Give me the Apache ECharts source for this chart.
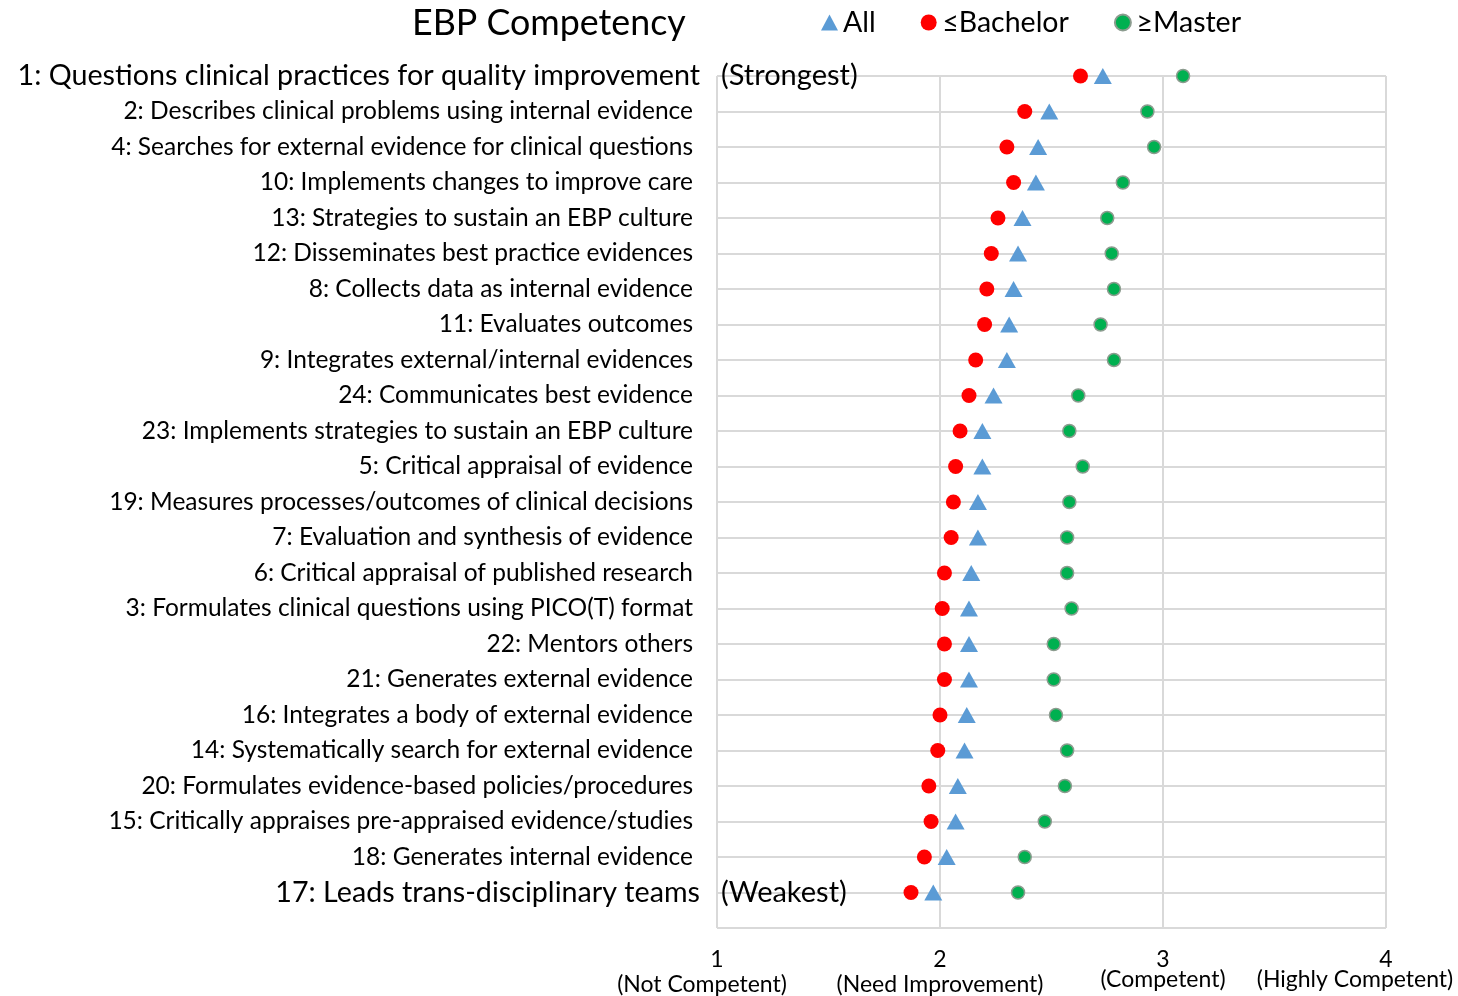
<!DOCTYPE html>
<html><head><meta charset="utf-8">
<script src="https://cdn.jsdelivr.net/npm/echarts@6/dist/echarts.min.js"></script>
<style>html,body{margin:0;padding:0;background:#fff}#c{width:1458px;height:996px}</style>
</head><body><div id="c"></div>
<script>
const categories = [
  "1: Questions clinical practices for quality improvement",
  "2: Describes clinical problems using internal evidence",
  "4: Searches for external evidence for clinical questions",
  "10: Implements changes to improve care",
  "13: Strategies to sustain an EBP culture",
  "12: Disseminates best practice evidences",
  "8: Collects data as internal evidence",
  "11: Evaluates outcomes",
  "9: Integrates external/internal evidences",
  "24: Communicates best evidence",
  "23: Implements strategies to sustain an EBP culture",
  "5: Critical appraisal of evidence",
  "19: Measures processes/outcomes of clinical decisions",
  "7: Evaluation and synthesis of evidence",
  "6: Critical appraisal of published research",
  "3: Formulates clinical questions using PICO(T) format",
  "22: Mentors others",
  "21: Generates external evidence",
  "16: Integrates a body of external evidence",
  "14: Systematically search for external evidence",
  "20: Formulates evidence-based policies/procedures",
  "15: Critically appraises pre-appraised evidence/studies",
  "18: Generates internal evidence",
  "17: Leads trans-disciplinary teams"
];
const allValues      = [2.73,2.49,2.44,2.43,2.37,2.35,2.33,2.31,2.30,2.24,2.19,2.19,2.17,2.17,2.14,2.13,2.13,2.13,2.12,2.11,2.08,2.07,2.03,1.97];
const bachelorValues = [2.63,2.38,2.30,2.33,2.26,2.23,2.21,2.20,2.16,2.13,2.09,2.07,2.06,2.05,2.02,2.01,2.02,2.02,2.00,1.99,1.95,1.96,1.93,1.87];
const masterValues   = [3.09,2.93,2.96,2.82,2.75,2.77,2.78,2.72,2.78,2.62,2.58,2.64,2.58,2.57,2.57,2.59,2.51,2.51,2.52,2.57,2.56,2.47,2.38,2.35];
const xTickLabels = {1:"(Not Competent)",2:"(Need Improvement)",3:"(Competent)",4:"(Highly Competent)"};
const annotations = [["(Strongest)",0],["(Weakest)",23]];

const FONT = "Lato";
const yCats = categories.concat([""]);
const toPts = arr => arr.map((v,i)=>[v,i]);
const xSubStyle = {1:'b1',2:'b2',3:'b3',4:'b4'};

const chart = echarts.init(document.getElementById('c'), null, {renderer:'canvas'});
chart.setOption({
  animation:false,
  textStyle:{fontFamily:FONT,color:'#000'},
  title:{text:'EBP Competency',left:407,top:0,textStyle:{fontFamily:FONT,fontSize:35.8,fontWeight:'normal',color:'#000'}},
  legend:{
    data:[{name:'All',icon:'triangle'},{name:'≤Bachelor',icon:'circle'},{name:'≥Master',icon:'circle'}],
    left:816,top:3,itemWidth:17,itemHeight:16,itemGap:45,
    textStyle:{fontFamily:FONT,fontSize:28.5,color:'#000'}
  },
  grid:{left:717,right:72,top:76,bottom:68,containLabel:false,outerBoundsMode:'none'},
  xAxis:{
    type:'value',min:1,max:4,interval:1,
    axisLine:{show:false},axisTick:{show:false},
    splitLine:{show:true,lineStyle:{color:'#d9d9d9',width:2}},
    axisLabel:{margin:19,hideOverlap:false,formatter:v=>'{a|'+v+'}\n{'+xSubStyle[v]+'|'+xTickLabels[v]+'}',
      rich:{
        a:{fontFamily:FONT,fontSize:23,color:'#000',lineHeight:26},
        b1:{fontFamily:FONT,fontSize:23,color:'#000',lineHeight:24,padding:[0,30,0,0]},
        b2:{fontFamily:FONT,fontSize:23,color:'#000',lineHeight:24},
        b3:{fontFamily:FONT,fontSize:23,color:'#000',lineHeight:14},
        b4:{fontFamily:FONT,fontSize:23,color:'#000',lineHeight:14,padding:[0,62,0,0]}
      }}
  },
  yAxis:{
    type:'category',data:yCats,inverse:true,boundaryGap:false,
    axisLine:{show:false},axisTick:{show:false},
    splitLine:{show:true,interval:0,lineStyle:{color:'#d9d9d9',width:2}},
    axisLabel:{interval:0,margin:17,hideOverlap:false,formatter:(v,i)=>(i===0||i===23)?'{big|'+v+'}':'{n|'+v+'}',
      rich:{big:{fontFamily:FONT,fontSize:28.7,color:'#000'},n:{fontFamily:FONT,fontSize:24.5,color:'#000',padding:[0,7,0,0]}}}
  },
  series:[
    {name:'All',type:'scatter',symbol:'triangle',symbolSize:[18,16],data:toPts(allValues),itemStyle:{color:'#5b9bd5',opacity:1},z:3},
    {name:'≤Bachelor',type:'scatter',symbol:'circle',symbolSize:15,data:toPts(bachelorValues),itemStyle:{color:'#ff0000',opacity:1},z:3},
    {name:'≥Master',type:'scatter',symbol:'circle',symbolSize:13,data:toPts(masterValues),itemStyle:{color:'#00b050',borderColor:'#8c9c8f',borderWidth:1.5,opacity:1},z:3},
    {name:'notes',type:'scatter',symbolSize:0,itemStyle:{opacity:1},data:annotations.map(a=>({value:[1,a[1]],label:{show:true,position:'right',distance:4,formatter:a[0],fontFamily:FONT,fontSize:29,color:'#000'}})),silent:true,z:4}
  ]
});
</script></body></html>
